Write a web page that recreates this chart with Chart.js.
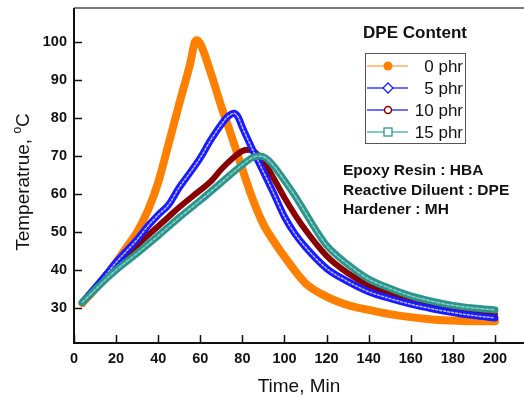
<!DOCTYPE html>
<html>
<head>
<meta charset="utf-8">
<script src="https://cdn.jsdelivr.net/npm/chart.js@4/dist/chart.umd.min.js"></script>
<style>
  html, body { margin: 0; padding: 0; background: #fff; }
  #wrap { width: 524px; height: 398px; position: relative; }
</style>
</head>
<body>
<div id="wrap"><canvas id="cureChart"></canvas></div>
<script>
// time (min) and temperature (degC) per DPE content
const time0 = [4, 10, 15, 20, 25, 30, 35, 40, 45, 50, 55, 58, 60, 65, 70, 75, 80, 85, 90, 95, 100, 110, 120, 130, 140, 150, 160, 170, 180, 190, 200];
const temp0 = [31.3, 35, 38.3, 42, 46, 50, 55.5, 63, 73.3, 83.7, 93.8, 100.4, 99.5, 91.8, 83, 75, 66.5, 58.5, 52, 47.5, 43.5, 36.5, 33, 30.8, 29.5, 28.4, 27.6, 27, 26.7, 26.5, 26.5];

const time5 = [4, 10, 15, 20, 25, 30, 35, 40, 45, 50, 55, 60, 65, 70, 73, 76, 78, 80, 85, 90, 95, 100, 105, 110, 120, 130, 140, 150, 160, 170, 180, 190, 200];
const temp5 = [31.5, 35.3, 38.6, 42, 45, 48, 51.5, 54.5, 57.2, 61.7, 65.5, 69.5, 74.2, 78.3, 80.3, 81.2, 80.2, 77.5, 71.5, 65.8, 60, 54, 49.5, 46, 40.4, 37, 34.3, 32.5, 31, 29.8, 28.8, 28, 27.4];

const time10 = [4, 10, 15, 20, 30, 40, 45, 50, 60, 65, 70, 75, 80, 83, 86, 90, 95, 100, 105, 110, 120, 130, 140, 150, 160, 170, 180, 190, 200];
const temp10 = [31.5, 35, 38, 40.8, 46.5, 51.5, 54, 56.5, 61, 63.3, 66.5, 69.2, 71.3, 71.6, 71, 68.5, 64, 59, 54.5, 50.5, 43.7, 39.2, 36, 33.8, 32.1, 30.8, 29.7, 28.9, 28.3];

const time15 = [4, 10, 15, 20, 30, 40, 50, 60, 70, 80, 85, 88, 91, 95, 100, 105, 110, 115, 120, 130, 140, 150, 160, 170, 180, 190, 200];
const temp15 = [31.5, 34.8, 37.5, 40, 44.4, 49, 53.8, 58.3, 63, 67.7, 69.6, 70, 69.5, 67.3, 63.5, 59.5, 55, 50.5, 46.5, 41.5, 37.6, 35.2, 33.2, 31.8, 30.7, 30, 29.5];

const seriesNames = ['0 phr', '5 phr', '10 phr', '15 phr'];
const xTicks = [0, 20, 40, 60, 80, 100, 120, 140, 160, 180, 200];
const yTicks = [30, 40, 50, 60, 70, 80, 90, 100];
const noteLines = ['Epoxy Resin : HBA', 'Reactive Diluent : DPE', 'Hardener : MH'];

const FONT = '"Liberation Sans", Arial, sans-serif';

const toPoints = (xs, ys) => xs.map((x, i) => ({ x: x, y: ys[i] }));

// inward ticks, axis lines, titles, legend and notes
const decor = {
    id: 'decor',
    beforeDatasetsDraw(chart) {
        const { ctx, chartArea: a } = chart;
        ctx.save();
        ctx.strokeStyle = '#7a7a7a';
        ctx.lineWidth = 2;
        ctx.beginPath();
        ctx.moveTo(a.left, a.top);
        ctx.lineTo(a.right, a.top);
        ctx.stroke();
        ctx.restore();
    },
    afterDatasetsDraw(chart) {
        const { ctx, chartArea: a, scales: { x, y } } = chart;
        ctx.save();
        ctx.strokeStyle = '#111';
        ctx.lineWidth = 2;
        ctx.beginPath();
        ctx.moveTo(a.left, a.top);
        ctx.lineTo(a.left, a.bottom);
        ctx.lineTo(a.right, a.bottom);
        ctx.stroke();
        ctx.lineWidth = 1.5;
        ctx.beginPath();
        yTicks.forEach(v => {
            const py = Math.round(y.getPixelForValue(v)) + 0.5;
            ctx.moveTo(a.left, py);
            ctx.lineTo(a.left + 8, py);
        });
        xTicks.forEach(v => {
            const px = Math.round(x.getPixelForValue(v)) + 0.5;
            ctx.moveTo(px, a.bottom);
            ctx.lineTo(px, a.bottom - 8);
        });
        ctx.stroke();

        // axis titles
        ctx.fillStyle = '#111';
        ctx.font = '19px ' + FONT;
        ctx.textAlign = 'center';
        ctx.textBaseline = 'alphabetic';
        ctx.fillText('Time, Min', 299, 392);

        ctx.save();
        ctx.translate(29, 182);
        ctx.rotate(-Math.PI / 2);
        const mainTxt = 'Temperatrue, ';
        ctx.font = '19px ' + FONT;
        const w1 = ctx.measureText(mainTxt).width;
        ctx.font = '12px ' + FONT;
        const w2 = ctx.measureText('o').width;
        ctx.font = '19px ' + FONT;
        const w3 = ctx.measureText('C').width;
        let sx = -(w1 + w2 + w3) / 2;
        ctx.textAlign = 'left';
        ctx.fillText(mainTxt, sx, 0);
        ctx.font = '12px ' + FONT;
        ctx.fillText('o', sx + w1, -8);
        ctx.font = '19px ' + FONT;
        ctx.fillText('C', sx + w1 + w2, 0);
        ctx.restore();

        // legend
        ctx.font = 'bold 17px ' + FONT;
        ctx.textAlign = 'center';
        ctx.fillText('DPE Content', 415, 38);

        ctx.strokeStyle = '#555';
        ctx.lineWidth = 1;
        ctx.strokeRect(365.5, 53.5, 100, 90);

        const rows = [66, 88, 110, 132];
        const lineCols = ['#ffb066', '#3c3cff', '#3c3cff', '#5cbab2'];
        rows.forEach((ry, i) => {
            ctx.strokeStyle = lineCols[i];
            ctx.lineWidth = 1.5;
            ctx.beginPath();
            ctx.moveTo(367, ry);
            ctx.lineTo(408, ry);
            ctx.stroke();
            const mx = 388;
            ctx.lineWidth = 1.3;
            if (i === 0) {
                ctx.fillStyle = '#ff8000';
                ctx.beginPath();
                ctx.arc(mx, ry, 4.5, 0, Math.PI * 2);
                ctx.fill();
            } else if (i === 1) {
                ctx.fillStyle = '#fff';
                ctx.strokeStyle = '#1a1aff';
                ctx.beginPath();
                ctx.moveTo(mx, ry - 5);
                ctx.lineTo(mx + 5, ry);
                ctx.lineTo(mx, ry + 5);
                ctx.lineTo(mx - 5, ry);
                ctx.closePath();
                ctx.fill();
                ctx.stroke();
            } else if (i === 2) {
                ctx.fillStyle = '#fff';
                ctx.strokeStyle = '#8b0000';
                ctx.lineWidth = 1.5;
                ctx.beginPath();
                ctx.arc(mx, ry, 3.5, 0, Math.PI * 2);
                ctx.fill();
                ctx.stroke();
            } else {
                ctx.fillStyle = '#fff';
                ctx.strokeStyle = '#2b958c';
                ctx.fillRect(mx - 4, ry - 4, 8, 8);
                ctx.strokeRect(mx - 4, ry - 4, 8, 8);
            }
            ctx.fillStyle = '#111';
            ctx.font = '17px ' + FONT;
            ctx.textAlign = 'right';
            ctx.fillText(seriesNames[i], 463, ry + 6);
        });

        // notes
        ctx.font = 'bold 15.5px ' + FONT;
        ctx.textAlign = 'left';
        noteLines.forEach((t, i) => ctx.fillText(t, 343, 175 + i * 19.5));
        ctx.restore();
    }
};

new Chart(document.getElementById('cureChart'), {
    type: 'line',
    data: {
        datasets: [
            // thin light strokes on top give the hollow-marker look of the bands
            {
                label: seriesNames[3] + ' hollow',
                data: toPoints(time15, temp15),
                borderColor: 'rgba(170, 225, 220, 0.75)',
                borderWidth: 1.5,
                borderDash: [3, 2],
                order: 0
            },
            {
                label: seriesNames[3],
                data: toPoints(time15, temp15),
                borderColor: '#2b958c',
                borderWidth: 7,
                order: 1
            },
            {
                label: seriesNames[1] + ' hollow',
                data: toPoints(time5, temp5),
                borderColor: 'rgba(255, 255, 255, 0.7)',
                borderWidth: 1.5,
                borderDash: [2, 2],
                order: 2
            },
            {
                label: seriesNames[1],
                data: toPoints(time5, temp5),
                borderColor: '#1a1aff',
                borderWidth: 7,
                order: 3
            },
            {
                label: seriesNames[2],
                data: toPoints(time10, temp10),
                borderColor: '#880000',
                borderWidth: 6,
                order: 4
            },
            {
                label: seriesNames[0],
                data: toPoints(time0, temp0),
                borderColor: '#ff8000',
                borderWidth: 8,
                order: 5
            }
        ]
    },
    options: {
        responsive: true,
        maintainAspectRatio: false,
        animation: false,
        layout: { padding: { top: 8, right: 0, left: 0, bottom: 0 } },
        elements: {
            point: { radius: 0 },
            line: { cubicInterpolationMode: 'monotone', borderCapStyle: 'round', borderJoinStyle: 'round', fill: false }
        },
        plugins: {
            legend: { display: false },
            tooltip: { enabled: false }
        },
        scales: {
            x: {
                type: 'linear',
                min: 0,
                max: 213.8,
                border: { display: false },
                grid: { display: false, drawTicks: false },
                afterBuildTicks: s => { s.ticks = xTicks.map(v => ({ value: v })); },
                afterFit: s => { s.height = 55; s.paddingLeft = 0; s.paddingRight = 0; },
                ticks: {
                    padding: 7,
                    color: '#111',
                    font: { family: FONT, size: 14.5, weight: 'bold' }
                }
            },
            y: {
                min: 20.8,
                max: 108.9,
                border: { display: false },
                grid: { display: false, drawTicks: false },
                afterBuildTicks: s => { s.ticks = yTicks.map(v => ({ value: v })); },
                afterFit: s => { s.width = 74; s.paddingTop = 0; s.paddingBottom = 0; },
                ticks: {
                    padding: 7,
                    color: '#111',
                    font: { family: FONT, size: 14.5, weight: 'bold' }
                }
            }
        }
    },
    plugins: [decor]
});
</script>
</body>
</html>
